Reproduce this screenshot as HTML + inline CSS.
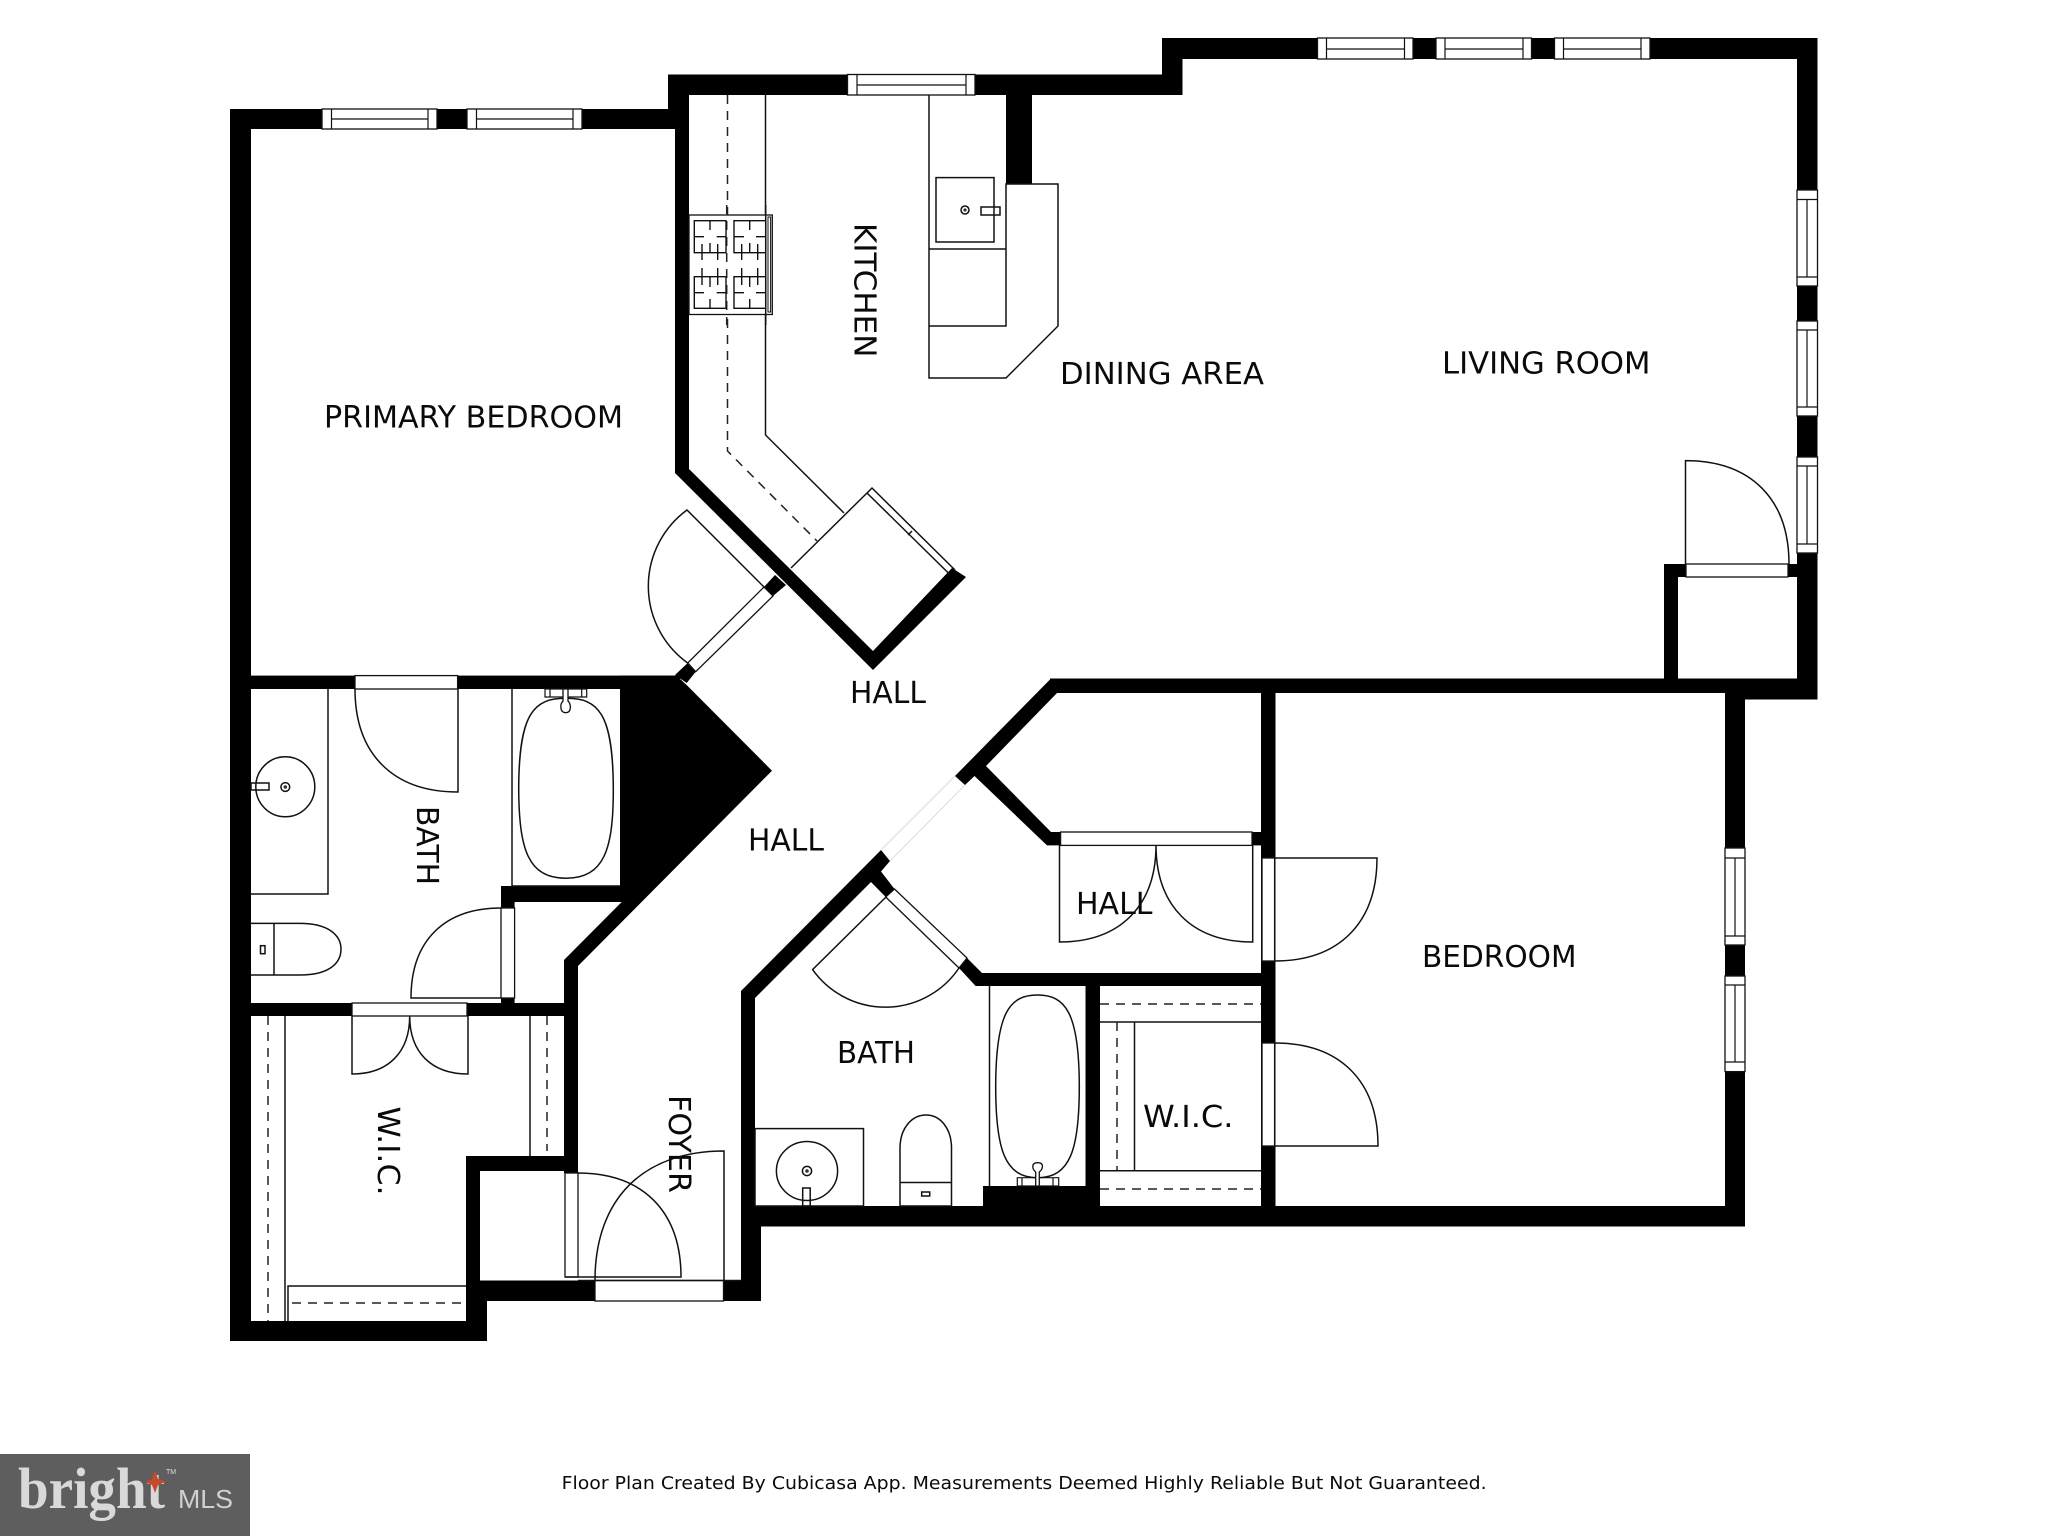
<!DOCTYPE html>
<html><head><meta charset="utf-8"><style>
html,body{margin:0;padding:0;background:#fff}
svg{display:block}
text{font-family:"DejaVu Sans","Liberation Sans",sans-serif;fill:#0a0a0a}
.l{fill:none;stroke:#111;stroke-width:1.5}
.w{fill:#fff;stroke:#111;stroke-width:1.3}
.d{fill:none;stroke:#222;stroke-width:1.5;stroke-dasharray:9 7}
.t{font-size:30px}
</style></head><body>
<svg width="2048" height="1536" viewBox="0 0 2048 1536" xmlns="http://www.w3.org/2000/svg">
<rect width="2048" height="1536" fill="#fff"/>
<g fill="#000">
<rect x="230" y="109" width="21" height="1232"/>
<rect x="230" y="109" width="445" height="20"/>
<rect x="668" y="74.5" width="514.5" height="20.5"/>
<rect x="668" y="74.5" width="21" height="54.5"/>
<rect x="675" y="95" width="14" height="378"/>
<polygon points="675,473 689,469 873,651 952,568 966,577 873,670"/>
<polygon points="775,575 786,585 773,596 764,587"/>
<polygon points="687.7,663 695.7,671.7 686.7,683 675,675"/>
<rect x="1006" y="95" width="26" height="89"/>
<rect x="1162" y="38" width="20.5" height="57"/>
<rect x="1162" y="38" width="655.5" height="21"/>
<rect x="1797" y="38" width="20.5" height="661.5"/>
<rect x="1050" y="678.5" width="767" height="14.5"/>
<rect x="1725" y="693" width="92" height="6.5"/>
<rect x="1725" y="693" width="20" height="533.5"/>
<rect x="741" y="1206" width="1004" height="20.5"/>
<rect x="1664" y="564" width="14" height="115"/>
<rect x="1664" y="564" width="133" height="13"/>
<rect x="1261" y="693" width="14.5" height="513"/>
<polygon points="1051,678.5 1057,693 986,766 1051,832 1060.6,832 1060.6,845.4 1047,845.4 974.5,776 965,785 955,776"/>
<rect x="1252" y="832" width="9" height="13.4"/>
<polygon points="881,850 890,861 881,871.5 894.5,889 885.7,897 871,882 755,998 755,1206 741,1206 741,991"/>
<polygon points="967,958 982,973 1261,973 1261,986 975.6,986 959,968"/>
<rect x="1085.5" y="986" width="14.5" height="220"/>
<rect x="983" y="1186" width="102.5" height="20"/>
<rect x="741" y="1206" width="20" height="95"/>
<rect x="724" y="1280.6" width="37" height="20.4"/>
<rect x="466" y="1280.5" width="129" height="20.5"/>
<rect x="466" y="1280.5" width="21" height="60.5"/>
<rect x="230" y="1321" width="257" height="20"/>
<rect x="466" y="1156" width="14" height="165"/>
<rect x="466" y="1156" width="112" height="15"/>
<rect x="564" y="960" width="14" height="213"/>
<rect x="230" y="675.6" width="450" height="13.4"/>
<polygon points="620,675.6 676.5,675.6 687,685.4 772,770.7 578,966 578,1003 564,1003 564,960 621.7,902 501,902 501,886 620,886"/>
<rect x="230" y="1003" width="348" height="13"/>
<rect x="501" y="886" width="13.6" height="22"/>
<rect x="501" y="998" width="13.6" height="5"/>
</g>

<!-- windows top -->
<rect class="w" x="322" y="109" width="115" height="20"/><path class="l" style="stroke-width:1.2" d="M331.5 109V129M428 109V129M331.5 119H428"/>
<rect class="w" x="467" y="109" width="115" height="20"/><path class="l" style="stroke-width:1.2" d="M476.5 109V129M573 109V129M476.5 119H573"/>
<rect class="w" x="847.5" y="74.5" width="127.5" height="20.5"/><path class="l" style="stroke-width:1.2" d="M857 74.5V95M966 74.5V95M857 85H966"/>
<rect class="w" x="1317.5" y="38" width="95.5" height="21"/><path class="l" style="stroke-width:1.2" d="M1326.5 38V59M1404.5 38V59M1326.5 49H1404.5"/>
<rect class="w" x="1436" y="38" width="95.5" height="21"/><path class="l" style="stroke-width:1.2" d="M1445 38V59M1523 38V59M1445 49H1523"/>
<rect class="w" x="1554.5" y="38" width="95.5" height="21"/><path class="l" style="stroke-width:1.2" d="M1563.5 38V59M1641 38V59M1563.5 49H1641"/>
<!-- windows right -->
<rect class="w" x="1797" y="190" width="20.5" height="96"/><path class="l" style="stroke-width:1.2" d="M1797 199.5H1817.5M1797 277H1817.5M1807 199.5V277"/>
<rect class="w" x="1797" y="321" width="20.5" height="95"/><path class="l" style="stroke-width:1.2" d="M1797 330H1817.5M1797 407H1817.5M1807 330V407"/>
<rect class="w" x="1797" y="457" width="20.5" height="96"/><path class="l" style="stroke-width:1.2" d="M1797 466H1817.5M1797 544H1817.5M1807 466V544"/>
<rect class="w" x="1725" y="848" width="20" height="97"/><path class="l" style="stroke-width:1.2" d="M1725 858H1745M1725 936H1745M1735 858V936"/>
<rect class="w" x="1725" y="976" width="20" height="95.6"/><path class="l" style="stroke-width:1.2" d="M1725 985H1745M1725 1062H1745M1735 985V1062"/>

<!-- thresholds -->
<rect class="w" x="1686" y="564" width="102" height="13"/>
<rect class="w" x="355" y="675.6" width="102.6" height="13.4"/>
<rect class="w" x="352" y="1003" width="115" height="13"/>
<rect class="w" x="501" y="908" width="13.6" height="90"/>
<rect class="w" x="565" y="1173" width="13" height="104"/>
<rect class="w" x="595" y="1280.5" width="128.5" height="20.5"/>
<rect class="w" x="1060.6" y="832" width="191.4" height="13.4"/>
<rect class="w" x="1262" y="858" width="12.6" height="103"/>
<rect class="w" x="1262" y="1043" width="12.6" height="103"/>
<polygon class="w" points="764,587 773,596 695.7,671.7 687.7,663"/>
<polygon class="w" points="894.5,889 967,958 959,968 885.7,897"/>

<!-- doors -->
<path class="l" d="M764 587L687 510A94.5 94.5 0 0 0 687.7 663"/>
<path class="l" d="M355 689C355 754 393 792 458 792V689"/>
<path class="l" d="M501 908C444 908 411 941 411 998H501"/>
<path class="l" d="M352 1016V1074C388 1074 409.7 1052.5 409.7 1016C409.7 1052.5 431.5 1074 468 1074V1016"/>
<path class="l" d="M578 1173C643 1173 681 1211.5 681 1277H565"/>
<path class="l" d="M724 1280.5V1151C643 1151 595 1199 595 1280.5"/>
<path class="l" d="M1685.5 564V460.6C1750.7 460.6 1789 499 1789 564"/>
<path class="l" d="M1059.5 845V942C1120 942 1156 906 1156 845C1156 906 1192 942 1252.7 942V845"/>
<path class="l" d="M1274.6 858H1377C1377 923 1339 961 1274.6 961"/>
<path class="l" d="M1274.6 1146H1378C1378 1081 1340 1043 1274.6 1043"/>
<path class="l" d="M886 897L812.6 969.6A89 89 0 0 0 959 968"/>
<!-- hall opening faint -->
<path fill="none" stroke="#ddd" stroke-width="1" d="M955 776L881 850M965 785L890 861"/>
<!-- closet sliding door in kitchen -->
<path class="l" d="M791 568L867 493L949 573.6M867 493L872 488L955 570M912 531L908 535"/>

<!-- kitchen -->
<path class="l" d="M765.5 95V435L844 513"/>
<path class="d" d="M727.5 95V451L817 541"/>
<rect class="w" x="689" y="215" width="83.3" height="99.5"/>
<path class="l" d="M765.7 205V325"/>
<rect class="l" style="stroke-width:1" x="768" y="217" width="2.6" height="95"/>
<path class="d" d="M726.7 205V325"/>
<g class="l" style="stroke-width:1.4">
<rect x="694.3" y="220.7" width="31.7" height="32"/><rect x="734" y="220.7" width="31.7" height="32"/>
<rect x="694.3" y="276.7" width="31.7" height="31.6"/><rect x="734" y="276.7" width="31.7" height="31.6"/>
<path d="M710 220.7V230M694.3 236.7H704M716.7 236.7H726M702 244V260M710 243V252.7M717.7 244V260"/>
<path d="M749.7 220.7V230M734 236.7H744M756 236.7H765.7M741.7 244V260M749.7 243V252.7M757.7 244V260"/>
<path d="M702 268V285M710 276.7V287M717.7 268V285M694.3 292.7H704M716.7 292.7H726M710 299V308.3"/>
<path d="M741.7 268V285M749.7 276.7V287M757.7 268V285M734 292.7H744M756 292.7H765.7M749.7 299V308.3"/>
</g>
<path class="l" d="M929 95V378H1006L1058 326V184H1006V326H929M929 249H1006"/>
<rect class="l" x="936" y="177.6" width="58" height="64.4"/>
<circle class="l" cx="965" cy="210" r="4"/><circle cx="965" cy="210" r="1.6" fill="#333"/>
<rect class="l" x="981" y="207" width="19" height="8"/>

<!-- primary bath -->
<path class="l" d="M251 894H328V689"/>
<ellipse class="l" cx="285.3" cy="786.8" rx="29.5" ry="30"/>
<circle class="l" cx="285.3" cy="787" r="4.4"/><circle cx="285.3" cy="787" r="1.8" fill="#333"/>
<rect class="l" x="251" y="783" width="18" height="7"/>
<path class="l" d="M251 923.4H300C328 923.4 341 935 341 949C341 964 328 975 300 975H251M274 923.4V975"/>
<rect class="l" x="260.5" y="945.7" width="4.5" height="8"/>
<path class="l" d="M512 886V689M512 886H620"/>
<path class="l" d="M566 698.3C598 698 613 713 613.3 788C613.5 850 604 878 566 878.3C528 878 519 850 518.7 788C519 713 534 698 566 698.3Z"/>
<path class="l" style="stroke-width:1.2" d="M545 689H586.7V697H545ZM550 689V697M581.7 689V697"/>
<path d="M563 689H568V701C571 704 572 712.7 565.7 712.7C559.5 712.7 560 704 563 701Z" fill="#fff" stroke="#111" stroke-width="1.3"/>

<!-- WIC left -->
<path class="l" d="M285 1016V1321M288 1321V1286H466"/>
<path class="d" d="M268 1016V1321"/>
<path class="l" d="M530 1016V1156.4"/>
<path class="d" d="M547 1016V1151"/>
<path class="d" d="M292 1303H466"/>

<!-- foyer -->
<path class="l" d="M578 1280.5H741"/>

<!-- lower bath -->
<rect class="l" x="755" y="1128.6" width="108.5" height="77.4"/>
<ellipse class="l" cx="807" cy="1171" rx="30.6" ry="29.5"/>
<circle class="l" cx="807" cy="1171" r="4.6"/><circle cx="807" cy="1171" r="1.8" fill="#333"/>
<rect class="l" x="802.7" y="1188" width="7.5" height="18"/>
<path class="l" d="M900 1206V1148C900 1128 912 1115 926 1115C940 1115 951.5 1128 951.5 1148V1206ZM900 1182.5H951.5"/>
<rect class="l" x="921.7" y="1192" width="8" height="4"/>
<path class="l" d="M989.5 986V1186"/>
<path class="l" d="M1037.5 995C1065 995 1079 1012 1079.3 1085C1079.5 1150 1070 1177.7 1037.5 1177.7C1005 1177.7 995.5 1150 995.7 1085C996 1012 1010 995 1037.5 995Z"/>
<path class="l" style="stroke-width:1.2" d="M1017.3 1177.7H1058.7V1186H1017.3ZM1022 1177.7V1186M1053 1177.7V1186"/>
<path d="M1035.7 1186V1172C1032 1169 1031 1162.7 1037.7 1162.7C1044.5 1162.7 1043 1169 1039.3 1172V1186Z" fill="#fff" stroke="#111" stroke-width="1.3"/>

<!-- WIC right -->
<path class="d" d="M1100 1004H1261"/>
<path class="l" d="M1100 1022H1261M1134.5 1022V1170.8M1100 1170.8H1261"/>
<path class="d" d="M1117 1022V1170"/>
<path class="d" d="M1100 1189H1261"/>

<!-- labels -->
<text class="t" x="324" y="427.6" textLength="299" lengthAdjust="spacingAndGlyphs">PRIMARY BEDROOM</text>
<text class="t" x="1060" y="384" textLength="204" lengthAdjust="spacingAndGlyphs">DINING AREA</text>
<text class="t" x="1442" y="373.6" textLength="208.5" lengthAdjust="spacingAndGlyphs">LIVING ROOM</text>
<text class="t" x="850" y="703" textLength="76" lengthAdjust="spacingAndGlyphs">HALL</text>
<text class="t" x="748" y="850.5" textLength="76" lengthAdjust="spacingAndGlyphs">HALL</text>
<text class="t" x="1076" y="914" textLength="76.5" lengthAdjust="spacingAndGlyphs">HALL</text>
<text class="t" x="837" y="1063" textLength="78" lengthAdjust="spacingAndGlyphs">BATH</text>
<text class="t" x="1143" y="1127" textLength="90.5" lengthAdjust="spacingAndGlyphs">W.I.C.</text>
<text class="t" x="1422" y="967" textLength="154.5" lengthAdjust="spacingAndGlyphs">BEDROOM</text>
<text class="t" transform="translate(854.4 223) rotate(90)" textLength="134.5" lengthAdjust="spacingAndGlyphs">KITCHEN</text>
<text class="t" transform="translate(417 806) rotate(90)" textLength="79" lengthAdjust="spacingAndGlyphs">BATH</text>
<text class="t" transform="translate(378 1106.5) rotate(90)" textLength="89" lengthAdjust="spacingAndGlyphs">W.I.C.</text>
<text class="t" transform="translate(669 1095) rotate(90)" textLength="98" lengthAdjust="spacingAndGlyphs">FOYER</text>
<text x="561.6" y="1489" font-size="17.5" textLength="925" lengthAdjust="spacingAndGlyphs">Floor Plan Created By Cubicasa App. Measurements Deemed Highly Reliable But Not Guaranteed.</text>

<!-- logo -->
<rect x="0" y="1454" width="250" height="82" fill="#5e5e5e"/>
<text x="18" y="1508" textLength="147" lengthAdjust="spacingAndGlyphs" style="font-family:'Liberation Serif',serif;font-weight:bold;font-size:58px;fill:#d9d9d9">bright</text>
<text x="178" y="1508" textLength="55" lengthAdjust="spacingAndGlyphs" style="font-family:'Liberation Sans',sans-serif;font-size:26px;fill:#d0d0d0">MLS</text>
<text x="166" y="1474" style="font-family:'Liberation Sans',sans-serif;font-size:7px;fill:#ddd">TM</text>
<polygon points="155,1470 158,1479 166,1482 158,1485 155,1493 152,1485 145,1482 152,1479" fill="#c9492b"/>
</svg>
</body></html>
